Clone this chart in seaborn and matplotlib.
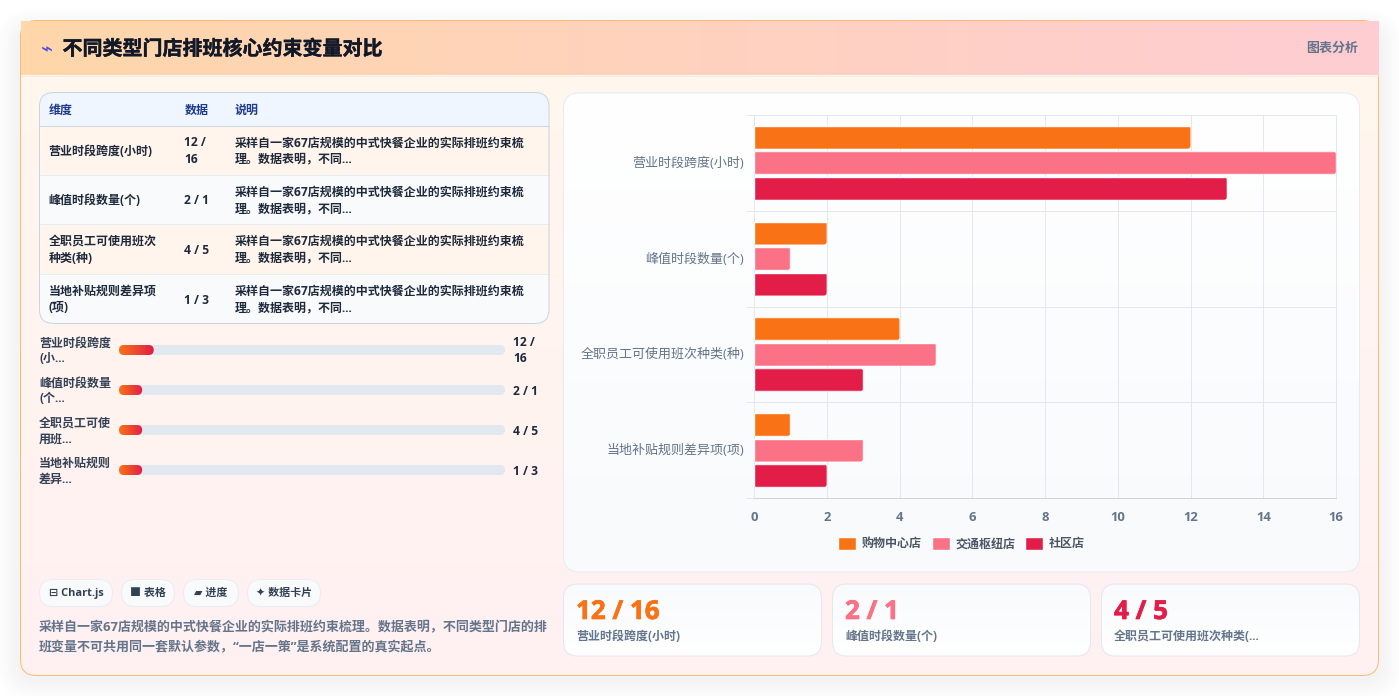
import numpy as np
import pandas as pd
import matplotlib
matplotlib.use("Agg")
import matplotlib.pyplot as plt
import matplotlib.patheffects as pe
from matplotlib.patches import FancyBboxPatch, Rectangle
from matplotlib.colors import LinearSegmentedColormap
from matplotlib.transforms import ScaledTranslation
import seaborn as sns

# ---- content ----
dimensions = ["营业时段跨度(小时)", "峰值时段数量(个)", "全职员工可使用班次种类(种)", "当地补贴规则差异项(项)"]
mall_values = [12, 2, 4, 1]
hub_values = [16, 1, 5, 3]
community_values = [13, 2, 3, 2]
store_types = ["购物中心店", "交通枢纽店", "社区店"]
store_colors = ["#f97316", "#fb7185", "#e11d48"]
x_ticks = [0, 2, 4, 6, 8, 10, 12, 14, 16]

table_head = ["维度", "数据", "说明"]
table_dims = [["营业时段跨度(小时)"], ["峰值时段数量(个)"], ["全职员工可使用班次", "种类(种)"], ["当地补贴规则差异项", "(项)"]]
table_data = [["12 /", "16"], ["2 / 1"], ["4 / 5"], ["1 / 3"]]
table_note = ["采样自一家67店规模的中式快餐企业的实际排班约束梳", "理。数据表明，不同..."]

progress_labels = [["营业时段跨度", "(小..."], ["峰值时段数量", "(个..."], ["全职员工可使", "用班..."], ["当地补贴规则", "差异..."]]
progress_pct = [9, 6, 6, 6]
progress_text = [["12 /", "16"], ["2 / 1"], ["4 / 5"], ["1 / 3"]]

tags = ["⊟ Chart.js", "■ 表格", "▰ 进度", "✦ 数据卡片"]
footnote = ["采样自一家67店规模的中式快餐企业的实际排班约束梳理。数据表明，不同类型门店的排",
            "班变量不可共用同一套默认参数，“一店一策”是系统配置的真实起点。"]
kpi_values = ["12 / 16", "2 / 1", "4 / 5"]
kpi_labels = ["营业时段跨度(小时)", "峰值时段数量(个)", "全职员工可使用班次种类(..."]
title = "不同类型门店排班核心约束变量对比"
header_note = "图表分析"

W, H = 1399, 696
PX = 0.72  # points per pixel at 100 dpi

sns.set_theme(style="white")
plt.rcParams["font.family"] = ["Open Sans", "Noto Sans CJK SC", "DejaVu Sans"]
plt.rcParams["axes.unicode_minus"] = False

fig = plt.figure(figsize=(W / 100, H / 100), dpi=100, facecolor="white")
bg = fig.add_axes([0, 0, 1, 1])
bg.set_xlim(0, W)
bg.set_ylim(H, 0)
bg.axis("off")


def rbox(x0, y0, x1, y1, r, **kw):
    p = FancyBboxPatch((x0, y0), x1 - x0, y1 - y0,
                       boxstyle=f"round,pad=0,rounding_size={r}", **kw)
    bg.add_patch(p)
    return p


def gradient(x0, y0, x1, y1, c0, c1, vertical=True, clip=None, z=1):
    cmap = LinearSegmentedColormap.from_list("g", [c0, c1])
    ramp = np.linspace(0, 1, 256)
    arr = ramp[:, None] if vertical else ramp[None, :]
    im = bg.imshow(arr, cmap=cmap, extent=(x0, x1, y1, y0), aspect="auto",
                   zorder=z, interpolation="bilinear", vmin=0, vmax=1)
    if clip is not None:
        im.set_clip_path(clip)
    return im


def label(x, y, s, size, color, weight="bold", ha="left", z=10, **kw):
    return bg.text(x, y + 1, s, fontsize=size * PX, color=color, fontweight=weight,
                   ha=ha, va="center", zorder=z, **kw)


# ---- outer card: soft shadow, gradient body, header band ----
for grow in range(24, 0, -2):
    rbox(20 - grow, 32 - grow, 1379 + grow, 678 + grow, 16 + grow,
         facecolor="#0f172a", edgecolor="none", alpha=0.005, zorder=0)

card_clip = rbox(20.5, 20.5, 1378.5, 675.5, 16, facecolor="none", edgecolor="none", zorder=1)
gradient(20.5, 20.5, 1378.5, 675.5, "#fff7ed", "#fff1f2", clip=card_clip, z=1)
rbox(20.5, 20.5, 1378.5, 675.5, 16, facecolor="none", edgecolor="#fdba74", linewidth=PX, zorder=2)
gradient(21, 21, 1378.5, 75, "#fed7aa", "#fecdd3", vertical=False, z=3)
bg.plot([21, 1378.5], [75.5, 75.5], color="#f3e8e2", lw=PX, zorder=3)
label(47, 49, "⌁", 20, "#4f46e5", weight="normal", ha="center", family=["DejaVu Sans"])
head = label(62.5, 49, title, 20, "#111827")
head.set_path_effects([pe.withStroke(linewidth=0.3, foreground="#111827")])
label(1358, 47, header_note, 13, "#64748b", ha="right")

# ---- table ----
tbl = rbox(39.5, 92.5, 549, 323.5, 14, facecolor="white", edgecolor="none", zorder=3)
row_edges = [92.5, 125.5, 175, 224, 274, 323.5]
row_colors = ["#eff6ff", "#fff5ec", "#f8fafc", "#fff5ec", "#f8fafc"]
for top, bottom, color in zip(row_edges[:-1], row_edges[1:], row_colors):
    r = Rectangle((39, top), 511, bottom - top, facecolor=color, edgecolor="none", zorder=4)
    bg.add_patch(r)
    r.set_clip_path(tbl)
for y, c in zip(row_edges[1:-1], ["#cbd5e1", "#e8edf3", "#e8edf3", "#e8edf3"]):
    bg.plot([40, 549], [y, y], color=c, lw=PX, zorder=5)
rbox(39.5, 92.5, 549, 323.5, 14, facecolor="none", edgecolor="#cbd5e1", linewidth=PX, zorder=6)

for x, s in zip([48.5, 184.5, 234.5], table_head):
    label(x, 109.5, s, 12, "#1e3a8a")
for i in range(4):
    cy = (row_edges[i + 1] + row_edges[i + 2]) / 2
    for x, lines in ((48.5, table_dims[i]), (184.5, table_data[i]), (234.5, table_note)):
        offs = [0.5] if len(lines) == 1 else [-8.5, 8]
        for off, s in zip(offs, lines):
            label(x, cy + off, s, 12, "#1e293b")

# ---- progress rows ----
fill_map = LinearSegmentedColormap.from_list("fill", ["#f97316", "#e11d48"])
track_x0, track_x1 = 119, 505
for i, cy in enumerate([350, 390, 430, 470]):
    rbox(track_x0, cy - 5, track_x1, cy + 5, 5, facecolor="#e2e8f0", edgecolor="none", zorder=3)
    fill_x1 = track_x0 + (track_x1 - track_x0) * progress_pct[i] / 100
    clip = rbox(track_x0, cy - 5, fill_x1, cy + 5, 5, facecolor="none", edgecolor="none", zorder=4)
    gradient(track_x0, cy - 5, fill_x1, cy + 5, fill_map(0.0), fill_map(1.0), vertical=False, clip=clip, z=4)
    for off, s in zip([-7.5, 8], progress_labels[i]):
        label(39, cy + off, s, 12, "#334155")
    vals = progress_text[i]
    for off, s in zip([-8, 8] if len(vals) == 2 else [0.5], vals):
        label(513, cy + off, s, 12, "#1e293b")

# ---- tag pills and footnote ----
for (x0, x1), s in zip([(39.5, 112.5), (121.5, 174.5), (183.5, 238.5), (247.5, 320.5)], tags):
    rbox(x0, 579.5, x1, 606.5, 13.5, facecolor="#f8fafc", edgecolor="#e9edf3", linewidth=PX, zorder=3)
    label((x0 + x1) / 2, 592.5, s, 11, "#334155", ha="center")
for y, s in zip([626.5, 646.5], footnote):
    label(39, y, s, 13, "#64748b")

# ---- chart card ----
chart_clip = rbox(563.5, 93, 1359.5, 572, 16, facecolor="none", edgecolor="none", zorder=2)
gradient(563.5, 93, 1359.5, 572, "#ffffff", "#f8fafc", clip=chart_clip, z=2)
rbox(563.5, 93, 1359.5, 572, 16, facecolor="none", edgecolor="#e6ebf2", linewidth=PX, zorder=3)

# ---- KPI cards ----
for (x0, x1), value, name, color in zip([(563.5, 821.5), (832.5, 1090.5), (1101.5, 1359.5)],
                                        kpi_values, kpi_labels, store_colors):
    clip = rbox(x0, 584, x1, 656, 14, facecolor="none", edgecolor="none", zorder=3)
    gradient(x0, 584, x1, 656, "#f8fafc", "#ffffff", clip=clip, z=3)
    rbox(x0, 584, x1, 656, 14, facecolor="none", edgecolor="#e2e8f0", linewidth=PX, zorder=4)
    big = label(x0 + 12.5, 610.5, value, 26, color, family=["Open Sans"])
    big.set_path_effects([pe.withStroke(linewidth=0.5, foreground=color)])
    label(x0 + 12.5, 635.5, name, 12, "#64748b")

# ---- grouped horizontal bars ----
long = pd.DataFrame({
    "dimension": dimensions * 3,
    "store": np.repeat(store_types, len(dimensions)),
    "value": mall_values + hub_values + community_values,
})
ax_x0, ax_x1, ax_y0, ax_y1 = 754, 1336, 115, 498
ax = fig.add_axes([ax_x0 / W, 1 - ax_y1 / H, (ax_x1 - ax_x0) / W, (ax_y1 - ax_y0) / H], zorder=5)
ax.patch.set_alpha(0)
sns.barplot(data=long, x="value", y="dimension", hue="store", hue_order=store_types,
            palette=store_colors, orient="h", width=0.8, gap=0.1, saturation=1,
            errorbar=None, ax=ax, zorder=3)
ax.set_xlim(0, 16)
ax.set_ylim(3.5, -0.5)
ax.set_xlabel("")
ax.set_ylabel("")
ax.set_xticks(x_ticks)
ax.set_yticks(range(4), dimensions)
ax.set_yticks([-0.5, 0.5, 1.5, 2.5, 3.5], minor=True)
ax.grid(True, axis="x", which="major", color="#e2e8f0", lw=PX, zorder=0)
ax.grid(True, axis="y", which="minor", color="#e2e8f0", lw=PX, zorder=0)
ax.grid(False, axis="y", which="major")
ax.set_axisbelow(True)
ax.tick_params(axis="x", which="major", length=2, width=PX, color="#e2e8f0", pad=7.2,
               labelsize=13 * PX, labelcolor="#64748b")
ax.tick_params(axis="y", which="major", length=0, pad=7.2, labelsize=13 * PX, labelcolor="#64748b")
ax.tick_params(axis="y", which="minor", length=5.76, width=PX, color="#e2e8f0", left=True)
ax.yaxis.get_minor_ticks()[-1].tick1line.set_color("#cbd5e1")
for t in ax.get_xticklabels():
    t.set_fontweight("bold")
lift = ScaledTranslation(0, 1 * PX / 72, fig.dpi_scale_trans)
for t in ax.get_yticklabels():
    t.set_transform(t.get_transform() + lift)
for name, spine in ax.spines.items():
    spine.set_visible(True)
    spine.set_color("#cbd5e1" if name == "bottom" else "#e2e8f0")
    spine.set_linewidth(PX)

# round the far end of each library bar by clipping it to a rounded outline
px_x = 16 / (ax_x1 - ax_x0)
px_y = 4 / (ax_y1 - ax_y0)
for bar in list(ax.patches):
    x, y, w, h = bar.get_x(), bar.get_y(), bar.get_width(), bar.get_height()
    outline = FancyBboxPatch((x - 1, y), w + 1, h, boxstyle=f"round,pad=0,rounding_size={3 * px_x}",
                             mutation_aspect=px_y / px_x, transform=ax.transData)
    bar.set_clip_path(outline)

handles, names = ax.get_legend_handles_labels()
leg = ax.legend(handles, names, loc="center", bbox_to_anchor=(961.5 / W, 1 - 543.5 / H),
                bbox_transform=fig.transFigure, ncol=3, frameon=False,
                fontsize=12 * PX, handlelength=1.5, handleheight=1.3,
                handletextpad=0.5, columnspacing=0.8, borderpad=0, borderaxespad=0)
for t in leg.get_texts():
    t.set_color("#4b5563")
    t.set_fontweight("bold")

fig.savefig("out.png", dpi=100, facecolor="white")
